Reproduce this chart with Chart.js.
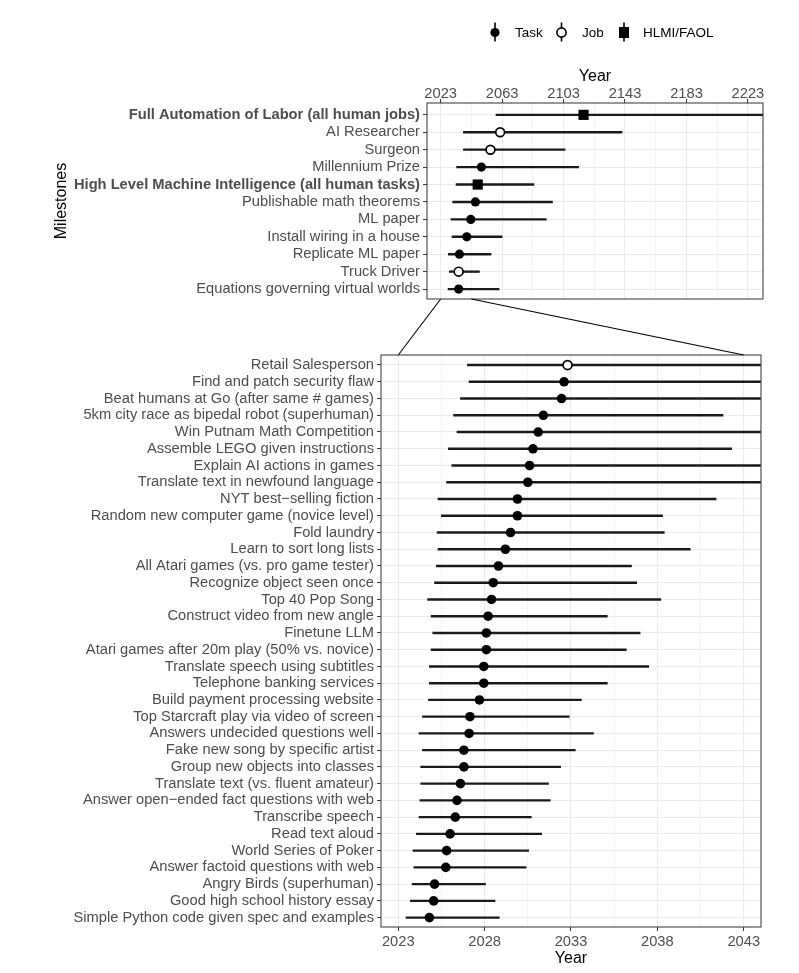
<!DOCTYPE html>
<html>
<head>
<meta charset="utf-8">
<script src="https://cdn.jsdelivr.net/npm/chart.js@4.4.1/dist/chart.umd.min.js"></script>
<style>
  body { margin: 0; background: #fff; }
  #wrap { position: relative; width: 799px; height: 973px; }
  canvas { position: absolute; left: 0; }
</style>
</head>
<body>
<div id="wrap">
  <canvas id="top" width="799" height="320" style="top:0"></canvas>
  <canvas id="bottom" width="799" height="653" style="top:320px"></canvas>
  <canvas id="links" width="799" height="973" style="top:0;pointer-events:none"></canvas>
</div>
<script>
// top panel: the big milestones
var topLabels = ['Full Automation of Labor (all human jobs)', 'AI Researcher', 'Surgeon', 'Millennium Prize',
  'High Level Machine Intelligence (all human tasks)', 'Publishable math theorems', 'ML paper',
  'Install wiring in a house', 'Replicate ML paper', 'Truck Driver', 'Equations governing virtual worlds'];
var topMid  = [2116, 2061.7, 2055.4, 2049.5, 2047.1, 2045.6, 2042.6, 2040, 2035.2, 2034.7, 2034.7];
var topLow  = [2059, 2037.8, 2037.8, 2033.4, 2033, 2030.8, 2029.7, 2030.4, 2028, 2028.6, 2027.8];
var topHigh = [2300, 2141, 2104, 2112.8, 2083.7, 2095.8, 2091.7, 2063, 2055.8, 2048.2, 2061];
var topKind = ['HLMI', 'Job', 'Job', 'Task', 'HLMI', 'Task', 'Task', 'Task', 'Task', 'Job', 'Task'];
var topBold = [0, 4];
var topTicks = [2023, 2043, 2063, 2083, 2103, 2123, 2143, 2163, 2183, 2203, 2223];

// bottom panel: zoom on 2023-2043
var bottomLabels = ['Retail Salesperson', 'Find and patch security flaw', 'Beat humans at Go (after same # games)',
  '5km city race as bipedal robot (superhuman)', 'Win Putnam Math Competition', 'Assemble LEGO given instructions',
  'Explain AI actions in games', 'Translate text in newfound language', 'NYT best\u2212selling fiction',
  'Random new computer game (novice level)', 'Fold laundry', 'Learn to sort long lists',
  'All Atari games (vs. pro game tester)', 'Recognize object seen once', 'Top 40 Pop Song',
  'Construct video from new angle', 'Finetune LLM', 'Atari games after 20m play (50% vs. novice)',
  'Translate speech using subtitles', 'Telephone banking services', 'Build payment processing website',
  'Top Starcraft play via video of screen', 'Answers undecided questions well', 'Fake new song by specific artist',
  'Group new objects into classes', 'Translate text (vs. fluent amateur)', 'Answer open\u2212ended fact questions with web',
  'Transcribe speech', 'Read text aloud', 'World Series of Poker', 'Answer factoid questions with web',
  'Angry Birds (superhuman)', 'Good high school history essay', 'Simple Python code given spec and examples'];
var bottomMid = [2032.8, 2032.6, 2032.45, 2031.4, 2031.1, 2030.8, 2030.6, 2030.5, 2029.9, 2029.9, 2029.5, 2029.2,
  2028.8, 2028.5, 2028.4, 2028.2, 2028.1, 2028.1, 2027.95, 2027.95, 2027.7, 2027.15, 2027.1, 2026.8,
  2026.8, 2026.6, 2026.4, 2026.3, 2026.0, 2025.8, 2025.75, 2025.1, 2025.05, 2024.8];
var bottomLow = [2027.0, 2027.1, 2026.6, 2026.2, 2026.4, 2025.9, 2026.1, 2025.8, 2025.3, 2025.5, 2025.25, 2025.3,
  2025.2, 2025.1, 2024.7, 2024.9, 2025.0, 2024.9, 2024.8, 2024.8, 2024.75, 2024.4, 2024.2, 2024.4,
  2024.3, 2024.3, 2024.25, 2024.2, 2024.05, 2023.85, 2023.9, 2023.8, 2023.7, 2023.45];
var bottomHigh = [2048, 2048, 2048, 2041.8, 2048, 2042.3, 2048, 2048, 2041.4, 2038.3, 2038.4, 2039.9,
  2036.5, 2036.8, 2038.2, 2035.1, 2037.0, 2036.2, 2037.5, 2035.1, 2033.6, 2032.9, 2034.3, 2033.25,
  2032.4, 2031.7, 2031.8, 2030.7, 2031.3, 2030.55, 2030.4, 2028.05, 2028.6, 2028.85];
var bottomKind = ['Job'].concat(new Array(33).fill('Task'));
var bottomTicks = [2023, 2025.5, 2028, 2030.5, 2033, 2035.5, 2038, 2040.5, 2043];

var FONT = "'Liberation Sans', Arial, sans-serif";
Chart.defaults.font.family = FONT;
Chart.defaults.animation = false;

function pick(mid, kind, k) {
  var out = [];
  mid.forEach(function (v, i) { if (kind[i] === k) out.push({ x: v, y: i }); });
  return out;
}

function points(label, data, style, r, fill) {
  return {
    type: 'line', label: label, data: data, indexAxis: 'y', showLine: false,
    pointStyle: style, pointRadius: r, pointHoverRadius: r,
    pointBackgroundColor: fill, pointBorderColor: '#000',
    pointBorderWidth: fill === '#fff' ? 1.7 : 0, order: 0
  };
}

function ranges(low, high) {
  return {
    type: 'bar', label: 'range', order: 1,
    data: low.map(function (l, i) { return { y: i, x: [l, high[i]] }; }),
    backgroundColor: '#1a1a1a', borderWidth: 0, barThickness: 1.7
  };
}

var panelBorder = {
  id: 'panelBorder',
  afterDraw: function (chart) {
    var a = chart.chartArea, c = chart.ctx;
    c.save();
    c.strokeStyle = '#444';
    c.lineWidth = 1.1;
    c.strokeRect(a.left, a.top, a.right - a.left, a.bottom - a.top);
    c.restore();
  }
};

function xAxis(min, max, ticks, step, pos, height, tickPad, titlePad) {
  var major = function (v) { return Math.abs((v - 2023) % step) < 1e-6; };
  return {
    type: 'linear', position: pos, min: min, max: max,
    afterBuildTicks: function (s) { s.ticks = ticks.map(function (v) { return { value: v }; }); },
    afterFit: function (s) { s.height = height; },
    border: { display: false },
    grid: {
      color: '#ebebeb',
      lineWidth: function (c) { return major(c.tick.value) ? 1.1 : 0.6; },
      tickColor: function (c) { return major(c.tick.value) ? '#333' : 'rgba(0,0,0,0)'; },
      tickLength: 4, tickWidth: 1
    },
    ticks: {
      autoSkip: false, maxRotation: 0, padding: tickPad, color: '#4d4d4d', font: { size: 14.7 },
      callback: function (v) { return major(v) ? String(v) : ''; }
    },
    title: { display: true, text: 'Year', color: '#000', font: { size: 16 }, padding: titlePad }
  };
}

// rows on a linear axis so the end margins can follow the original
function yAxis(labels, lo, hi, width, bold, title) {
  return {
    type: 'linear', reverse: true, min: lo, max: hi, offset: false,
    afterBuildTicks: function (s) { s.ticks = labels.map(function (l, i) { return { value: i }; }); },
    afterFit: function (s) { s.width = width; },
    border: { display: false },
    grid: { offset: false, color: '#ebebeb', lineWidth: 1.1, tickColor: '#333', tickLength: 4, tickWidth: 1 },
    ticks: {
      autoSkip: false, padding: 3, color: '#4d4d4d',
      callback: function (v) { return labels[v]; },
      font: function (c) { return { size: 14.7, weight: bold.indexOf(c.index) >= 0 ? 'bold' : 'normal' }; }
    },
    title: title ? { display: true, text: title, color: '#000', font: { size: 16 }, padding: 0 } : { display: false }
  };
}

// legend drawn by hand so it can sit where the original put it
var glyphLegend = {
  id: 'glyphLegend',
  afterDraw: function (chart) {
    var c = chart.ctx;
    var items = [
      { x: 495, tx: 515, text: 'Task', style: 'circle', fill: '#000' },
      { x: 561.5, tx: 582, text: 'Job', style: 'circle', fill: '#fff' },
      { x: 624, tx: 643, text: 'HLMI/FAOL', style: 'rect', fill: '#000' }
    ];
    c.save();
    items.forEach(function (it) {
      c.strokeStyle = '#000';
      c.lineWidth = 1.6;
      c.beginPath();
      c.moveTo(it.x, 22.5);
      c.lineTo(it.x, 41.5);
      c.stroke();
      c.fillStyle = it.fill;
      c.beginPath();
      if (it.style === 'rect') c.rect(it.x - 5, 27, 10, 11);
      else c.arc(it.x, 32.5, 4.6, 0, Math.PI * 2);
      c.fill();
      if (it.fill === '#fff') c.stroke();
      c.fillStyle = '#000';
      c.font = '13.5px ' + FONT;
      c.textBaseline = 'middle';
      c.fillText(it.text, it.tx, 33);
    });
    c.restore();
  }
};

var topChart = new Chart(document.getElementById('top'), {
  type: 'bar',
  data: {
    datasets: [
      points('Task', pick(topMid, topKind, 'Task'), 'circle', 4.6, '#000'),
      points('Job', pick(topMid, topKind, 'Job'), 'circle', 4.4, '#fff'),
      points('HLMI/FAOL', pick(topMid, topKind, 'HLMI'), 'rect', 7.2, '#000'),
      ranges(topLow, topHigh)
    ]
  },
  options: {
    responsive: false,
    indexAxis: 'y',
    layout: { padding: { left: 52, right: 36, top: 58, bottom: 21 } },
    plugins: { legend: { display: false }, tooltip: { enabled: false } },
    scales: {
      x: xAxis(2014.1, 2232.8, topTicks, 40, 'top', 45, -4, { top: 9, bottom: 0 }),
      y: yAxis(topLabels, -0.68, 10.57, 375, topBold, 'Milestones')
    }
  },
  plugins: [panelBorder, glyphLegend]
});

var bottomChart = new Chart(document.getElementById('bottom'), {
  type: 'bar',
  data: {
    datasets: [
      points('Task', pick(bottomMid, bottomKind, 'Task'), 'circle', 4.8, '#000'),
      points('Job', pick(bottomMid, bottomKind, 'Job'), 'circle', 4.5, '#fff'),
      ranges(bottomLow, bottomHigh)
    ]
  },
  options: {
    responsive: false,
    indexAxis: 'y',
    layout: { padding: { left: 0, right: 38, top: 35, bottom: 4 } },
    plugins: { legend: { display: false }, tooltip: { enabled: false } },
    scales: {
      x: xAxis(2022, 2044, bottomTicks, 5, 'bottom', 42, 2, { top: 0, bottom: 1 }),
      y: yAxis(bottomLabels, -0.6, 33.56, 381, [], null)
    }
  },
  plugins: [panelBorder]
});

// zoom lines linking 2023-2043 in the top panel to the bottom panel
var lc = document.getElementById('links').getContext('2d');
lc.strokeStyle = '#000';
lc.lineWidth = 1.1;
[2023, 2043].forEach(function (v) {
  lc.beginPath();
  lc.moveTo(topChart.scales.x.getPixelForValue(v), topChart.chartArea.bottom);
  lc.lineTo(bottomChart.scales.x.getPixelForValue(v), 320 + bottomChart.chartArea.top);
  lc.stroke();
});
</script>
</body>
</html>
